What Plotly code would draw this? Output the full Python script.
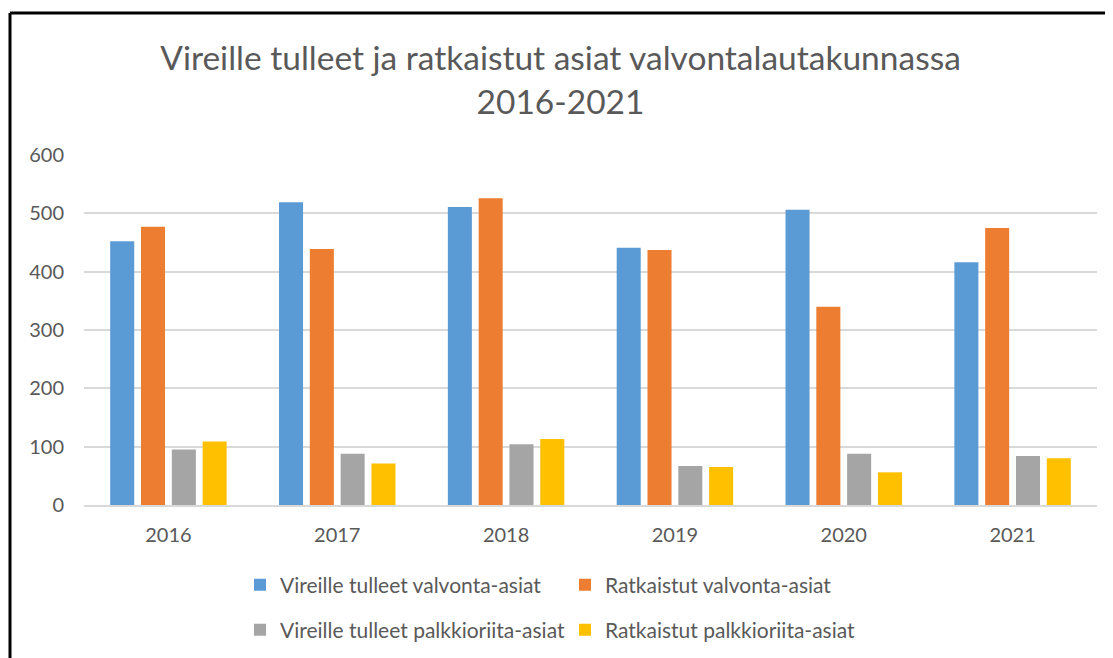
import plotly.graph_objects as go

years = ["2016", "2017", "2018", "2019", "2020", "2021"]
series_names = [
    "Vireille tulleet valvonta-asiat",
    "Ratkaistut valvonta-asiat",
    "Vireille tulleet palkkioriita-asiat",
    "Ratkaistut palkkioriita-asiat",
]
vireille_valvonta = [452, 519, 511, 441, 506, 416]
ratkaistut_valvonta = [477, 439, 526, 437, 340, 475]
vireille_palkkio = [95, 88, 104, 67, 88, 84]
ratkaistut_palkkio = [109, 71, 113, 65, 56, 80]
colors = ["#5B9BD5", "#ED7D31", "#A5A5A5", "#FFC000"]
y_ticks = [0, 100, 200, 300, 400, 500, 600]

title_text = "Vireille tulleet ja ratkaistut asiat valvontalautakunnassa<br>2016-2021"

fig = go.Figure()
all_vals = [vireille_valvonta, ratkaistut_valvonta, vireille_palkkio, ratkaistut_palkkio]
for i, (name, vals, col) in enumerate(zip(series_names, all_vals, colors)):
    fig.add_trace(go.Bar(x=years, y=vals, name=name,
                         marker=dict(color=col, line=dict(width=0)),
                         legend="legend" if i < 2 else "legend2"))

W, H = 1105, 650
L, R, T, B = 76, 16, 147, 153
pw = W - L - R
ph = H - T - B

legend_common = dict(orientation="h", xref="container", yref="container",
                     x=232 / W, xanchor="left", yanchor="middle",
                     entrywidth=280, font=dict(size=21, color="#595959"),
                     traceorder="normal", itemwidth=30, bgcolor="rgba(0,0,0,0)")

fig.update_layout(
    width=W, height=H,
    margin=dict(l=L, r=R, t=T, b=B),
    paper_bgcolor="white", plot_bgcolor="white",
    font=dict(family="Lato, Open Sans, sans-serif", color="#595959", size=20),
    title=dict(text=title_text, x=0.5, xanchor="center", xref="container",
               y=1 - 62 / H, yanchor="top", yref="container",
               font=dict(size=33.5, color="#595959")),
    barmode="group", bargap=0.27, bargroupgap=0.22,
    xaxis=dict(showgrid=False, ticks="", showline=True, linecolor="#d9d9d9", linewidth=1.5,
               tickfont=dict(size=20, color="#595959"), ticklabelstandoff=11),
    yaxis=dict(range=[0, 600], tickvals=y_ticks, showgrid=True, gridcolor="#d9d9d9", gridwidth=1.5,
               zeroline=False, showline=False, ticks="", tickfont=dict(size=20, color="#595959"),
               ticklabelstandoff=19),
    legend=dict(y=1 - 577 / H, **legend_common),
    legend2=dict(y=1 - 622 / H, **legend_common),
    showlegend=True,
)

# outer frame: only the left and top edges are visible in the reference
frame_x0 = (2 - L) / pw
frame_ytop = (H - B - 5) / ph
fig.add_shape(type="line", xref="paper", yref="paper",
              x0=frame_x0, x1=(W + 20 - L) / pw, y0=frame_ytop, y1=frame_ytop,
              line=dict(color="black", width=3), layer="above")
fig.add_shape(type="line", xref="paper", yref="paper",
              x0=frame_x0, x1=frame_x0, y0=-(B + 20) / ph, y1=frame_ytop,
              line=dict(color="black", width=3), layer="above")

fig.write_html("out.html")
